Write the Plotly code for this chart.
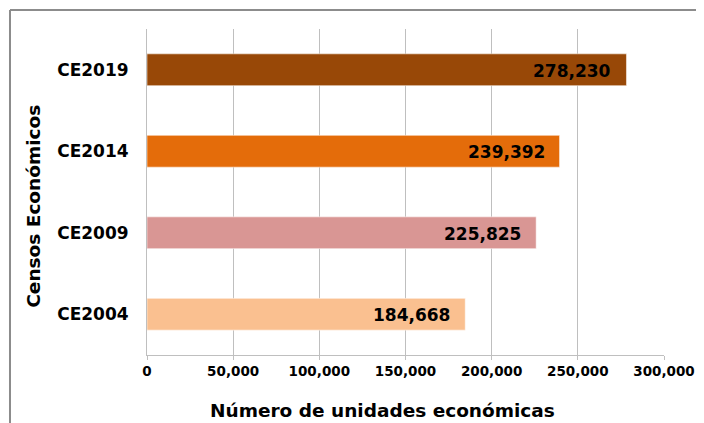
import plotly.graph_objects as go

categories = ["CE2004", "CE2009", "CE2014", "CE2019"]
values = [184668, 225825, 239392, 278230]
colors = ["#FAC090", "#D99694", "#E46C0A", "#984807"]
tick_vals = [0, 50000, 100000, 150000, 200000, 250000, 300000]

FONT = "DejaVu Sans"

fig = go.Figure()
fig.add_trace(go.Bar(
    x=values,
    y=categories,
    orientation="h",
    width=0.39,
    marker=dict(color=colors, line=dict(color="rgba(255,255,255,0.5)", width=1)),
    hoverinfo="x+y",
))

# data labels, placed just inside the bar end
for cat, val in zip(categories, values):
    fig.add_annotation(
        x=val, y=cat, text=f"{val:,}",
        xanchor="right", yanchor="middle", xshift=-13, yshift=-1,
        showarrow=False,
        font=dict(family=FONT, size=17, color="black", weight="bold"),
    )

# axis titles
fig.add_annotation(
    x=-0.2185, y=0.455, xref="paper", yref="paper",
    text="Censos Económicos", textangle=-90, showarrow=False,
    xanchor="center", yanchor="middle",
    font=dict(family=FONT, size=18.5, color="black", weight="bold"),
)
fig.add_annotation(
    x=0.456, y=-0.17, xref="paper", yref="paper",
    text="Número de unidades económicas", showarrow=False,
    xanchor="center", yanchor="middle",
    font=dict(family=FONT, size=18.5, color="black", weight="bold"),
)

# outer frame (only top and left edges are in view)
frame = dict(color="#8c8c8c", width=2)
fig.add_shape(type="line", xref="paper", yref="paper",
              x0=-0.265, x1=1.2, y0=1.058, y1=1.058, line=frame, layer="below")
fig.add_shape(type="line", xref="paper", yref="paper",
              x0=-0.265, x1=-0.265, y0=-0.3, y1=1.058, line=frame, layer="below")

fig.update_layout(
    width=696,
    height=415,
    margin=dict(l=139, r=40, t=21, b=68),
    plot_bgcolor="white",
    paper_bgcolor="white",
    showlegend=False,
    xaxis=dict(
        range=[0, 300000],
        tickvals=tick_vals,
        tickformat=",d",
        showgrid=True,
        gridcolor="#bfbfbf",
        gridwidth=1,
        showline=True,
        linecolor="#bfbfbf",
        linewidth=1,
        ticks="outside",
        ticklen=4,
        tickcolor="#bfbfbf",
        tickfont=dict(family=FONT, size=13.5, color="black", weight="bold"),
        zeroline=False,
        automargin=False,
        fixedrange=True,
    ),
    yaxis=dict(
        showgrid=False,
        showline=True,
        linecolor="#bfbfbf",
        linewidth=1,
        ticks="",
        ticklabelstandoff=14,
        tickfont=dict(family=FONT, size=17, color="black", weight="bold"),
        automargin=False,
        fixedrange=True,
    ),
)

fig.write_html("out.html", config={"displayModeBar": False})
